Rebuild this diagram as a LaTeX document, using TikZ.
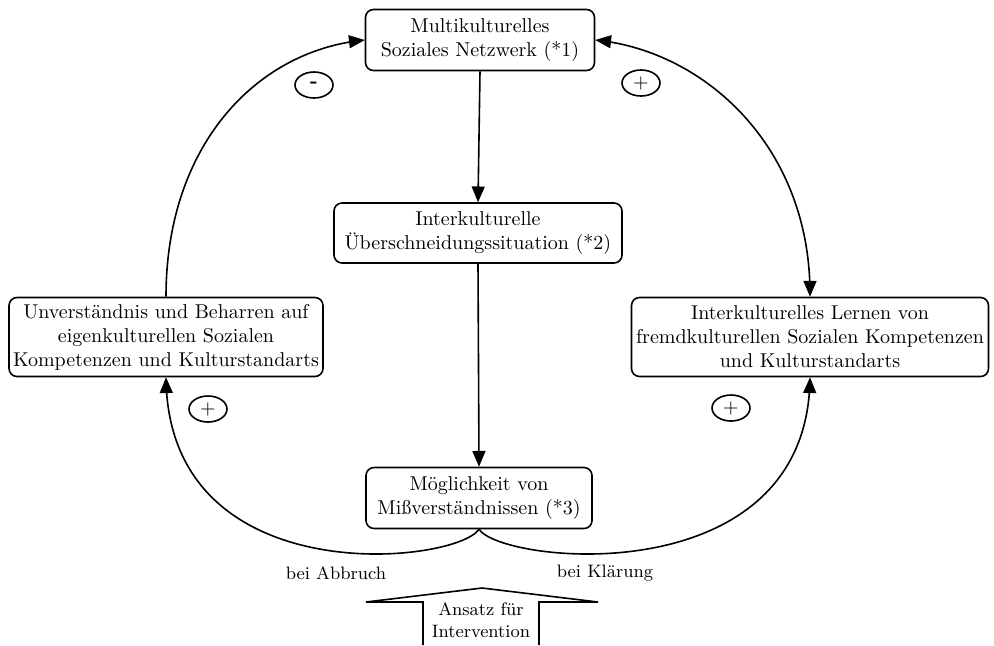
\documentclass[tikz,border=0pt]{standalone}
\usepackage{fontspec}
\usepackage{amssymb, amsmath}
\usetikzlibrary{shapes,arrows}

\begin{document}
\begin{tikzpicture}[x=0.5pt,y=-0.5pt,
		feld/.style={draw, thick, rounded corners=4pt, align=center, inner sep=2pt},
		pol/.style={draw, thick, ellipse, minimum width=19pt, minimum height=13pt, inner sep=0pt},
		pfeil/.style={thick, -triangle 45},
		notiz/.style={font=\small, align=center}]
	\useasboundingbox (0,0) rectangle (994,645);
	% Kaestchen
	\node[feld, minimum width=114.5pt, minimum height=30.5pt] (netz) at (480,40) {Multikulturelles\\Soziales Netzwerk (*1)};
	\node[feld, minimum width=144pt, minimum height=30pt] (situ) at (478,233) {Interkulturelle\\Überschneidungssituation (*2)};
	\node[feld, minimum width=113pt, minimum height=30.5pt] (miss) at (479,498) {Möglichkeit von\\Mißverständnissen (*3)};
	\node[feld, minimum width=154pt, minimum height=39.5pt] (eigen) at (166,337) {Unverständnis und Beharren auf\\eigenkulturellen Sozialen\\Kompetenzen und Kulturstandarts};
	\node[feld, minimum width=178.5pt, minimum height=39.5pt] (fremd) at (810,337) {Interkulturelles Lernen von\\fremdkulturellen Sozialen Kompetenzen\\und Kulturstandarts};
	% Verbindungen
	\draw[pfeil] (netz.south) -- (situ.north);
	\draw[pfeil] (situ.south) -- (miss.north);
	\draw[pfeil] (eigen.north) .. controls +(0,-150) and +(-110,12) .. (netz.west);
	\draw[pfeil, triangle 45-triangle 45] (netz.east) .. controls +(110,12) and +(0,-150) .. (fremd.north);
	\draw[pfeil] (miss.south) .. controls +(-24,35) and +(4,217) .. (eigen.south);
	\draw[pfeil] (miss.south) .. controls +(24,35) and +(-4,217) .. (fremd.south);
	% Vorzeichen
	\node[pol] (minus) at (314,85) {\textbf{-}};
	\node[pol] (plusoben) at (641,83) {$+$};
	\node[pol] (pluslinks) at (208,409) {$+$};
	\node[pol] (plusrechts) at (731,408) {$+$};
	\node[notiz] (abbruch) at (336,573) {bei Abbruch};
	\node[notiz] (klaerung) at (605,573) {bei Klärung};
	% Interventionspfeil
	\draw[thick] (423,645)--(423,602)--(366,602)--(482,588)--(598,602)--(539,602)--(539,645);
	\node[notiz] (ansatz) at (481,620) {Ansatz für\\Intervention};
\end{tikzpicture}
\end{document}
